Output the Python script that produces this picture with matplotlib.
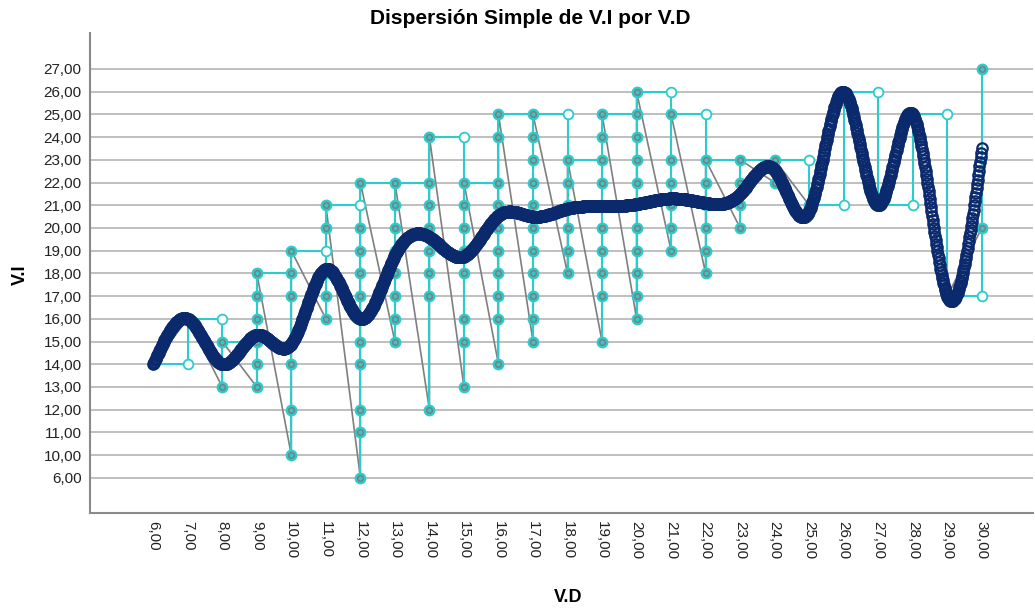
import numpy as np
import matplotlib.pyplot as plt

plt.rcParams['font.family'] = ['Liberation Sans', 'DejaVu Sans']

# categories on both axes (SPSS treats them as categorical)
vd_cats = list(range(6, 31))
vi_cats = [6] + list(range(10, 28))

# observed V.I values for each V.D category
vi_by_vd = [
    [14],
    [16],
    [13, 15],
    [13, 14, 15, 16, 17, 18],
    [10, 12, 14, 17, 18, 19],
    [16, 17, 18, 20, 21],
    [6, 11, 12, 14, 15, 16, 17, 18, 19, 20, 22],
    [15, 16, 17, 18, 19, 20, 21, 22],
    [12, 17, 18, 19, 20, 21, 22, 24],
    [13, 15, 16, 18, 19, 20, 21, 22],
    [14, 16, 17, 18, 19, 20, 21, 22, 24, 25],
    [15, 16, 17, 18, 19, 20, 21, 22, 23, 24, 25],
    [18, 19, 20, 21, 22, 23],
    [15, 17, 18, 19, 20, 21, 22, 23, 24, 25],
    [16, 17, 18, 19, 20, 21, 22, 23, 24, 25, 26],
    [19, 20, 21, 22, 23, 25],
    [18, 19, 20, 21, 22, 23],
    [20, 21, 22, 23],
    [22, 23],
    [21],
    [26],
    [21],
    [25],
    [17],
    [20, 27],
]

# smooth fit line values at each V.D category
fit_vi = [14.0, 16.0, 14.0, 15.3, 14.9, 18.2, 16.0, 18.8, 19.6, 18.75,
          20.55, 20.5, 20.85, 20.95, 21.05, 21.3, 21.1, 21.5, 22.55, 20.75,
          26.0, 21.0, 25.0, 17.0, 23.5]

CYAN = '#2ccccc'
NAVY = '#0b2a6e'
GRAY = '#7f7f7f'

xpos = {v: i for i, v in enumerate(vd_cats)}
ypos = {v: i for i, v in enumerate(vi_cats)}

px, py = [], []
for vd, vals in zip(vd_cats, vi_by_vd):
    for v in vals:
        px.append(xpos[vd])
        py.append(ypos[v])
px = np.array(px)
py = np.array(py)

# corners of the step interpolation that are not data points
cx, cy = [], []
for i in range(1, len(vd_cats)):
    prev_top = vi_by_vd[i - 1][-1]
    if prev_top not in vi_by_vd[i]:
        cx.append(xpos[vd_cats[i]])
        cy.append(ypos[prev_top])


def natural_spline(xk, yk, xs):
    xk = np.asarray(xk, float)
    yk = np.asarray(yk, float)
    n = len(xk)
    h = np.diff(xk)
    A = np.zeros((n, n))
    r = np.zeros(n)
    A[0, 0] = A[-1, -1] = 1
    for i in range(1, n - 1):
        A[i, i - 1] = h[i - 1]
        A[i, i] = 2 * (h[i - 1] + h[i])
        A[i, i + 1] = h[i]
        r[i] = 3 * ((yk[i + 1] - yk[i]) / h[i] - (yk[i] - yk[i - 1]) / h[i - 1])
    c = np.linalg.solve(A, r)
    b = (yk[1:] - yk[:-1]) / h - h * (2 * c[:-1] + c[1:]) / 3
    d = (c[1:] - c[:-1]) / (3 * h)
    idx = np.clip(np.searchsorted(xk, xs) - 1, 0, n - 2)
    dx = xs - xk[idx]
    return yk[idx] + b[idx] * dx + c[idx] * dx ** 2 + d[idx] * dx ** 3


fit_y = np.interp(fit_vi, vi_cats, np.arange(len(vi_cats)))
xs = np.linspace(0, len(vd_cats) - 1, 1400)
ys = natural_spline(np.arange(len(vd_cats)), fit_y, xs)

fig = plt.figure(figsize=(10.35, 6.12), dpi=100)
ax = fig.add_axes([0.087, 0.162, 0.911, 0.784])

for i in range(len(vi_cats)):
    ax.axhline(i, color='#bfbfbf', lw=1.4, zorder=0)

ax.plot(px, py, color=GRAY, lw=1.2, zorder=2)
ax.plot(px, py, color=CYAN, lw=1.5, drawstyle='steps-post', zorder=3)
ax.plot(cx, cy, 'o', ms=7, mfc='white', mec=CYAN, mew=1.3, zorder=4)
ax.plot(px, py, 'o', ms=7.5, mfc=CYAN, mec=CYAN, zorder=4)
ax.plot(px, py, 'o', ms=4, mfc='none', mec=GRAY, mew=1.2, zorder=5)
ax.plot(xs, ys, 'o', ms=7.5, mfc='none', mec=NAVY, mew=1.6, zorder=6)

ax.set_xlim(-1.83, len(vd_cats) - 1 + 1.48)
ax.set_ylim(-1.54, len(vi_cats) - 1 + 1.58)
ax.set_xticks(range(len(vd_cats)))
ax.set_xticklabels([f'{v},00' for v in vd_cats], rotation=-90, fontsize=11)
ax.set_yticks(range(len(vi_cats)))
ax.set_yticklabels([f'{v},00' for v in vi_cats], fontsize=11)
ax.tick_params(length=0, pad=6, colors='#222222')

for s in ['top', 'right']:
    ax.spines[s].set_visible(False)
for s in ['left', 'bottom']:
    ax.spines[s].set_color('#8a8a8a')
    ax.spines[s].set_linewidth(1.5)

fig.text(530 / 1035, 1 - 18 / 612, 'Dispersión Simple de V.I por V.D',
         ha='center', va='center', fontsize=15, fontweight='bold')
fig.text(568 / 1035, 1 - 598 / 612, 'V.D', ha='center', va='center',
         fontsize=13, fontweight='bold')
fig.text(20 / 1035, 1 - 275 / 612, 'V.I', ha='center', va='center',
         fontsize=13, fontweight='bold', rotation=90)

fig.savefig('out.png', dpi=100)
